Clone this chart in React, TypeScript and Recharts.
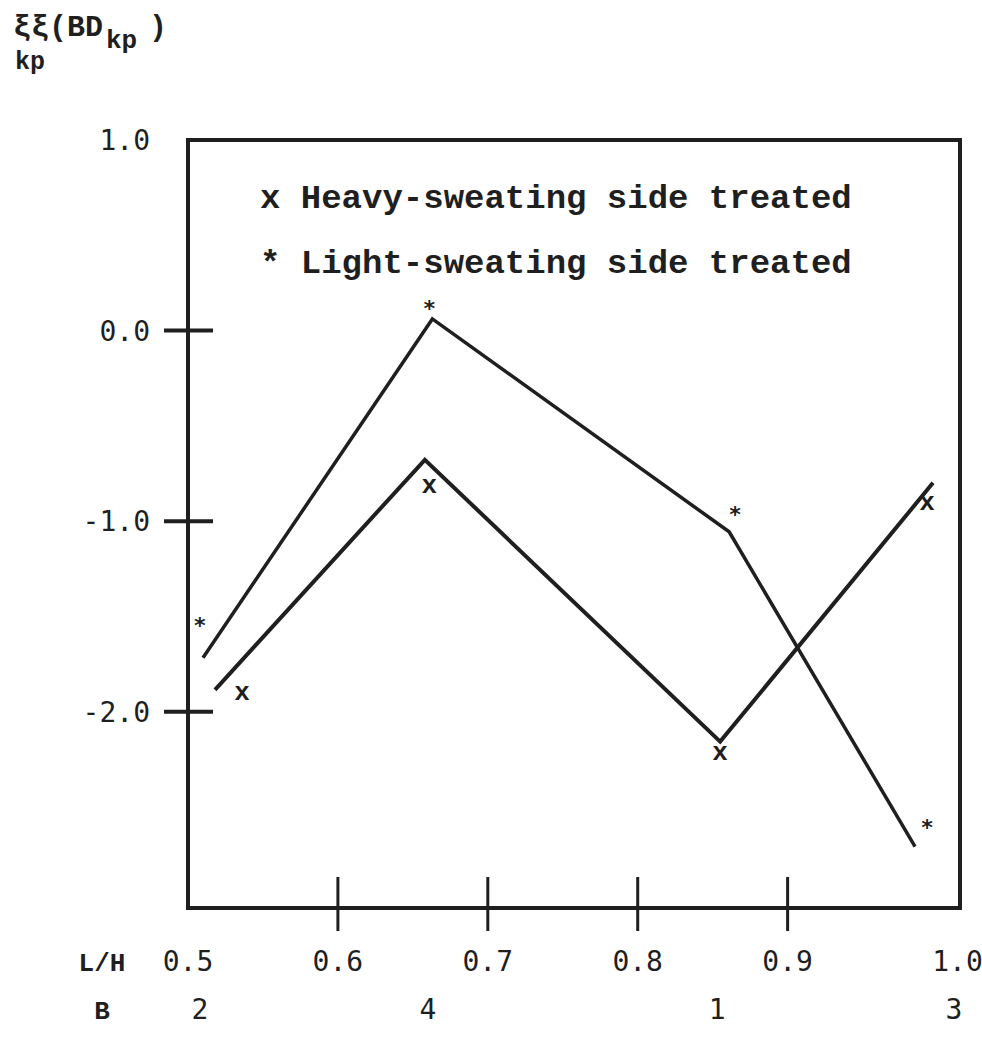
import {
  ComposedChart,
  Line,
  Scatter,
  XAxis,
  YAxis,
  ReferenceArea,
  Legend,
} from 'recharts'

// L/H tick labels along the bottom, and the B code for each sample
const lhTicks = [0.5, 0.6, 0.7, 0.8, 0.9, 1.0]
const bPositions = [0.508, 0.66, 0.853, 1.011]
const bLabels = ['2', '4', '1', '3']
const yTicks = [1, 0, -1, -2]

// drawn lines
const heavyLineX = [0.518, 0.658, 0.855, 0.997]
const heavyLineY = [-1.885, -0.678, -2.157, -0.799]
const lightLineX = [0.51, 0.663, 0.861, 0.985]
const lightLineY = [-1.717, 0.061, -1.056, -2.708]

// typed markers (x and *), slightly off the lines as in the original
const heavyMarkX = [0.536, 0.661, 0.855, 0.993]
const heavyMarkY = [-1.895, -0.809, -2.21, -0.899]
const lightMarkX = [0.508, 0.661, 0.865, 0.993]
const lightMarkY = [-1.523, 0.14, -0.94, -2.582]

const X_MIN = 0.5
const X_MAX = 1.015
const Y_MIN = -3.03
const Y_MAX = 1.0

const ink = '#1f1f1f'
const mono = '"DejaVu Sans Mono", monospace'
const typewriter = '"Liberation Mono", "DejaVu Sans Mono", monospace'

const zip = (xs: number[], ys: number[]) => xs.map((x, i) => ({ x, y: ys[i] }))

const heavyLine = zip(heavyLineX, heavyLineY)
const lightLine = zip(lightLineX, lightLineY)
const heavyMarks = zip(heavyMarkX, heavyMarkY)
const lightMarks = zip(lightMarkX, lightMarkY)

function LhTick(props: any) {
  const { x, y, payload } = props
  const v = payload.value
  const inner = v > 0.55 && v < 0.95
  const dx = v >= 1 ? 20 : 0
  return (
    <g>
      {inner && <line x1={x} x2={x} y1={y - 32} y2={y + 22} stroke={ink} strokeWidth={3} />}
      <text x={x + dx} y={y + 62} textAnchor="middle" fontFamily={mono} fontSize={28} fill={ink}>
        {v.toFixed(1)}
      </text>
    </g>
  )
}

function BTick(props: any) {
  const { x, y, index } = props
  return (
    <text x={x} y={y + 111} textAnchor="middle" fontFamily={mono} fontSize={28} fill={ink}>
      {bLabels[index]}
    </text>
  )
}

function YTick(props: any) {
  const { x, y, payload } = props
  const v = payload.value
  return (
    <g>
      {v < 1 && <line x1={x - 24} x2={x + 25} y1={y} y2={y} stroke={ink} strokeWidth={4} />}
      <text x={x - 38} y={y + 10} textAnchor="end" fontFamily={mono} fontSize={28} fill={ink}>
        {v.toFixed(1)}
      </text>
    </g>
  )
}

const XMark = (props: any) => (
  <text x={props.cx} y={props.cy + 8} textAnchor="middle" fontFamily={typewriter} fontWeight="bold" fontSize={26} fill={ink}>
    x
  </text>
)

const StarMark = (props: any) => (
  <text x={props.cx} y={props.cy + 12} textAnchor="middle" fontFamily={mono} fontWeight="bold" fontSize={22} fill={ink}>
    *
  </text>
)

function LegendBox() {
  return (
    <div style={{ fontFamily: typewriter, fontWeight: 'bold', fontSize: 34, color: ink, lineHeight: '65px', whiteSpace: 'pre' }}>
      <div>x Heavy-sweating side treated</div>
      <div>* Light-sweating side treated</div>
    </div>
  )
}

const YTitle = (props: any) => {
  const { x, y } = props.viewBox
  const x0 = x - 174
  const y0 = y - 104
  return (
    <g fontFamily={typewriter} fontWeight="bold" fill={ink}>
      <text x={x0} y={y0} fontSize={30}>ξξ(BD</text>
      <text x={x0 + 93} y={y0 + 12} fontSize={26}>kp</text>
      <text x={x0 + 136} y={y0} fontSize={30}>)</text>
      <text x={x0 + 2} y={y0 + 33} fontSize={25}>kp</text>
    </g>
  )
}

const AxisName = (text: string, dy: number) => (props: any) => {
  const { x, y } = props.viewBox
  return (
    <text x={x - 86} y={y + dy} textAnchor="middle" fontFamily={typewriter} fontWeight="bold" fontSize={26} fill={ink}>
      {text}
    </text>
  )
}

export default function App() {
  return (
    <div style={{ position: 'absolute', left: 0, top: 0, width: 982, height: 1038, background: '#fff' }}>
      <ComposedChart width={982} height={1038} margin={{ top: 140, right: 22, bottom: 128, left: 187 }}>
        <XAxis
          xAxisId="lh"
          type="number"
          dataKey="x"
          domain={[X_MIN, X_MAX]}
          ticks={lhTicks}
          interval={0}
          height={1}
          axisLine={false}
          tickLine={false}
          tickSize={0}
          tickMargin={0}
          tick={LhTick}
          allowDataOverflow
          label={{ content: AxisName('L/H', 62) }}
        />
        <XAxis
          xAxisId="b"
          type="number"
          dataKey="x"
          domain={[X_MIN, X_MAX]}
          ticks={bPositions}
          interval={0}
          height={1}
          axisLine={false}
          tickLine={false}
          tickSize={0}
          tickMargin={0}
          tick={BTick}
          allowDataOverflow
          label={{ content: AxisName('B', 111) }}
        />
        <YAxis
          type="number"
          domain={[Y_MIN, Y_MAX]}
          ticks={yTicks}
          interval={0}
          width={1}
          axisLine={false}
          tickLine={false}
          tickSize={0}
          tickMargin={0}
          tick={YTick}
          allowDataOverflow
          label={{ content: YTitle }}
        />
        <ReferenceArea
          xAxisId="lh"
          x1={X_MIN}
          x2={X_MAX}
          y1={Y_MIN}
          y2={Y_MAX}
          fill="none"
          stroke={ink}
          strokeWidth={4}
          ifOverflow="visible"
        />
        <Legend
          content={LegendBox}
          verticalAlign="middle"
          align="center"
          layout="horizontal"
          wrapperStyle={{ position: 'absolute', top: 167, left: 260, width: 660 }}
        />
        <Line xAxisId="lh" data={heavyLine} dataKey="y" type="linear" stroke={ink} strokeWidth={4} dot={false} isAnimationActive={false} legendType="none" />
        <Line xAxisId="lh" data={lightLine} dataKey="y" type="linear" stroke={ink} strokeWidth={3.5} dot={false} isAnimationActive={false} legendType="none" />
        <Scatter xAxisId="lh" data={heavyMarks} dataKey="y" shape={XMark} isAnimationActive={false} legendType="none" />
        <Scatter xAxisId="lh" data={lightMarks} dataKey="y" shape={StarMark} isAnimationActive={false} legendType="none" />
      </ComposedChart>
    </div>
  )
}
